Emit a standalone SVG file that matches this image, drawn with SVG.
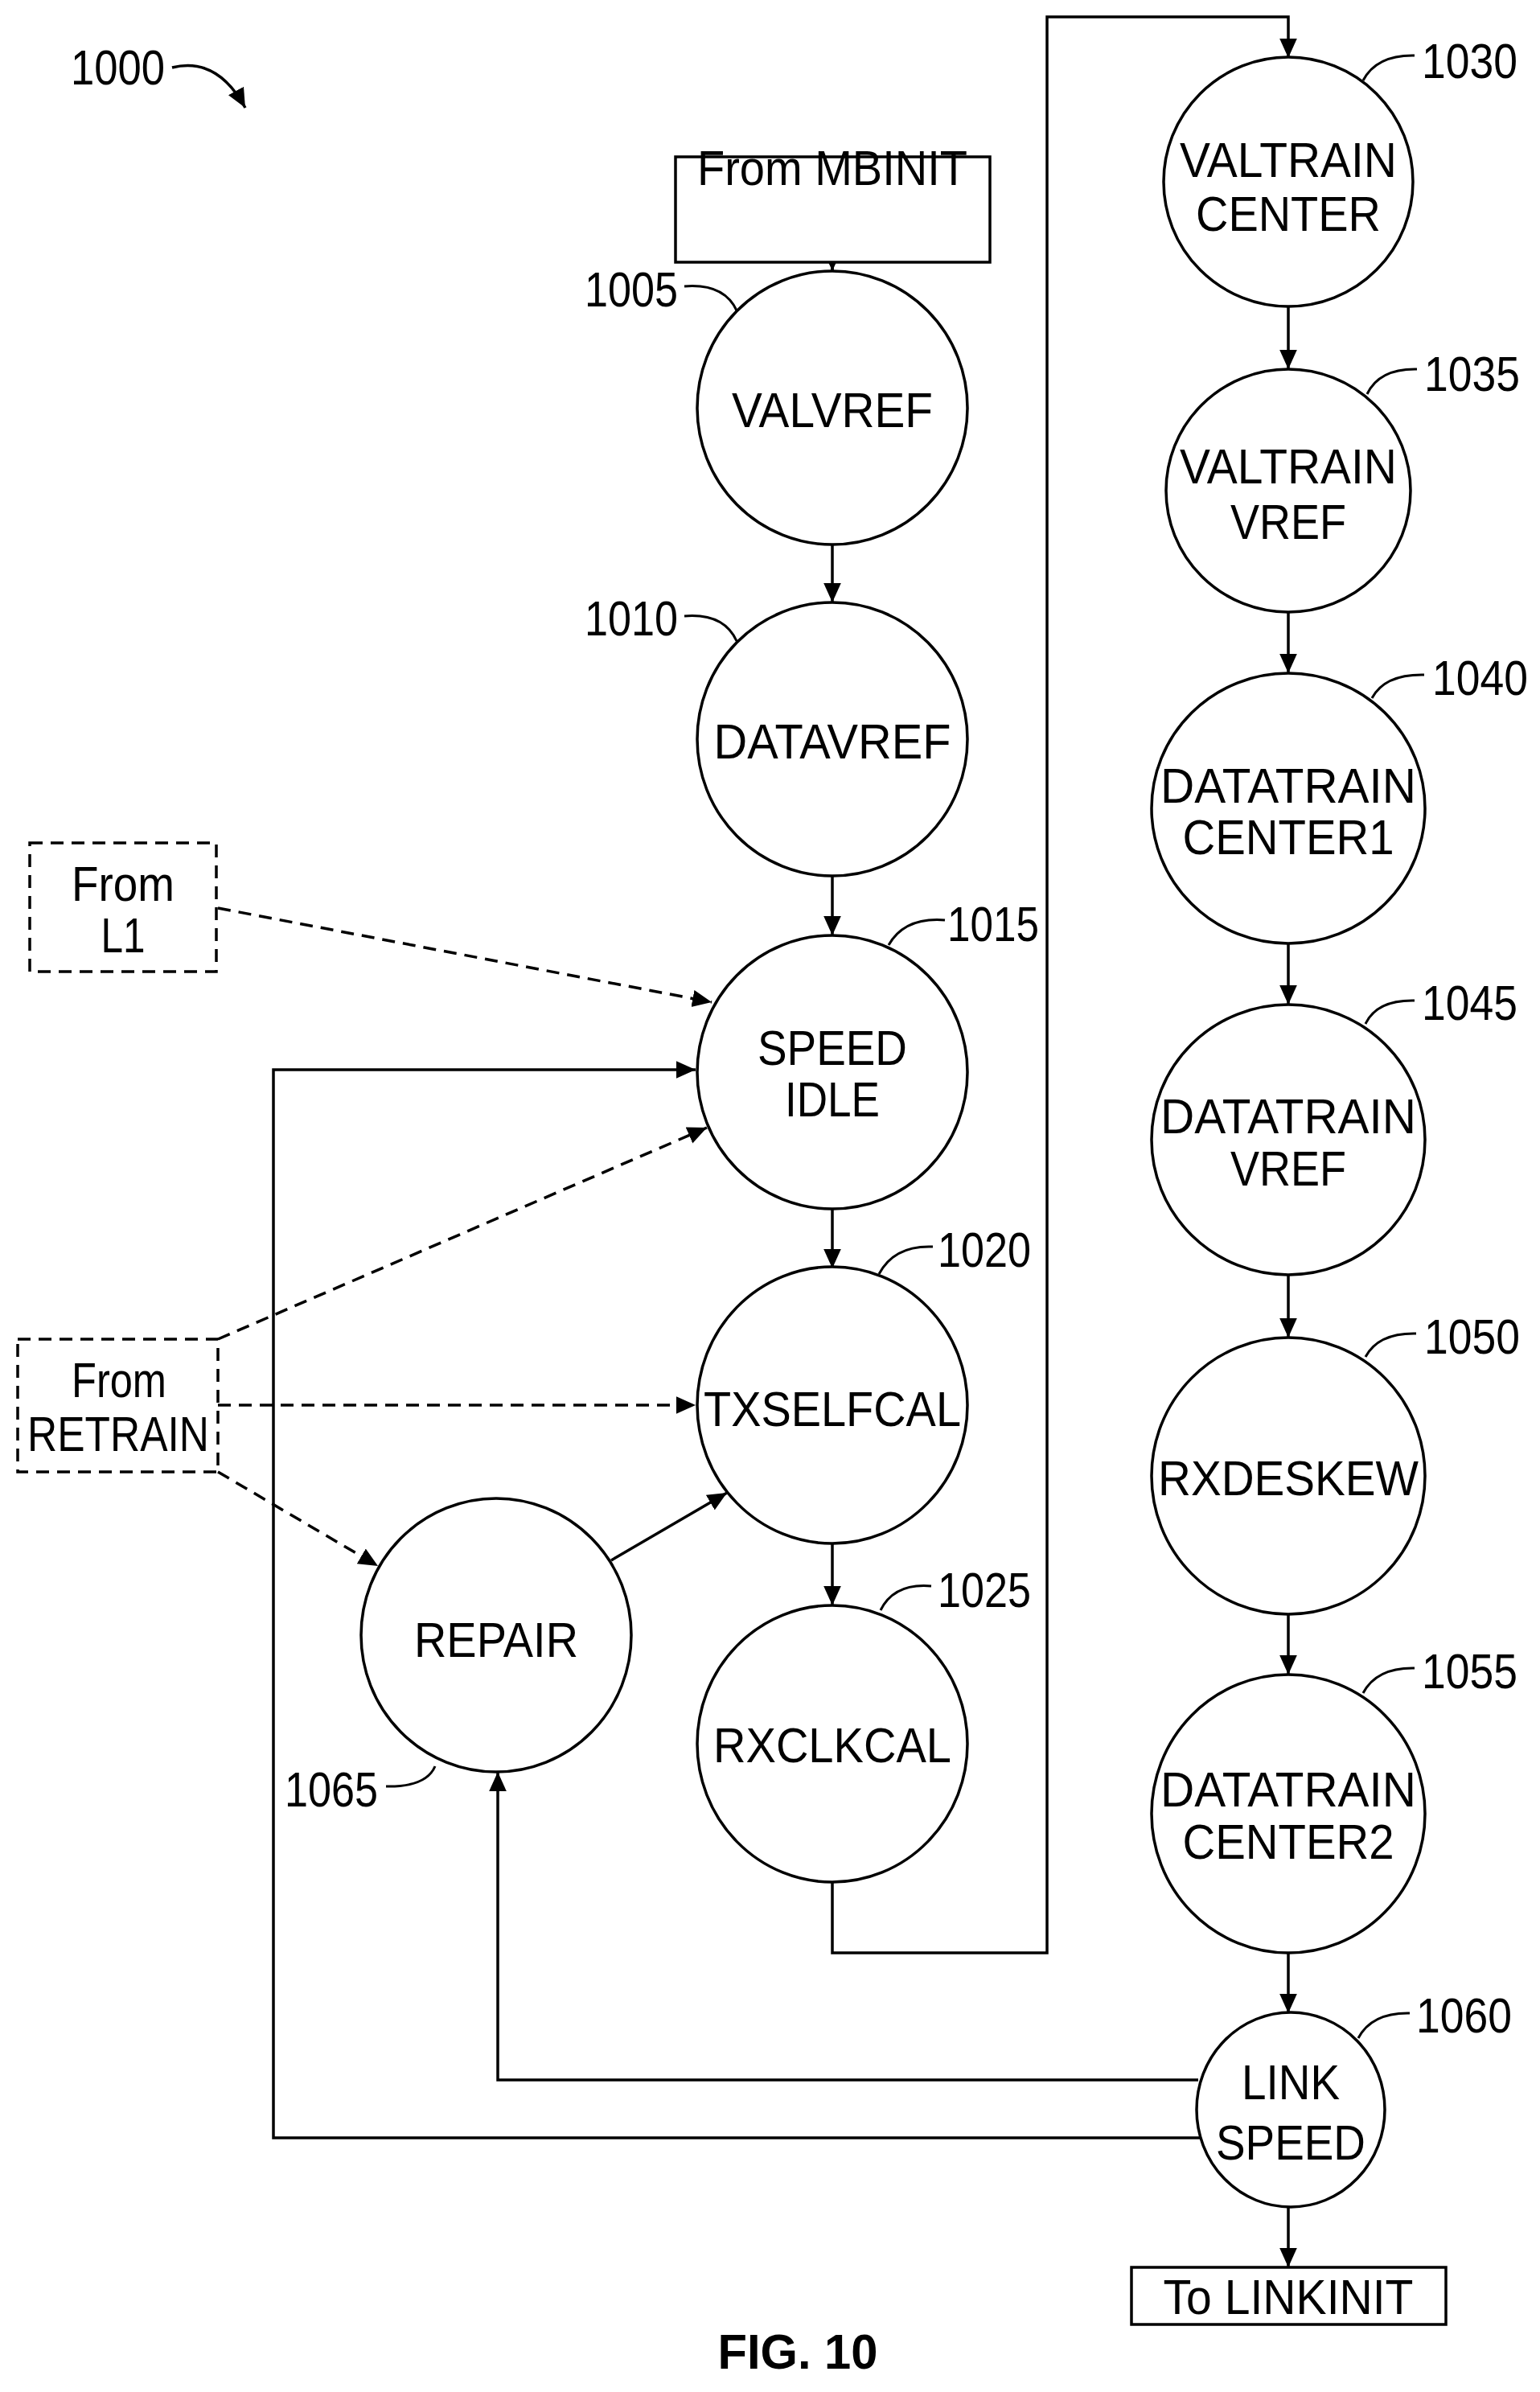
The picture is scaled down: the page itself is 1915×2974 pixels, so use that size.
<svg xmlns="http://www.w3.org/2000/svg" width="1915" height="2974" viewBox="0 0 1915 2974">
<style>
text{font-family:"Liberation Sans",Arial,sans-serif;font-size:62px;fill:#000}
.n{text-anchor:middle}
ellipse,rect{fill:#fff;stroke:#000;stroke-width:3.5}
.c path,.c line,.c polyline{fill:none;stroke:#000;stroke-width:3.5}
.d{stroke-dasharray:16 10}
.l{fill:none;stroke:#000;stroke-width:3}
</style>
<defs>
<marker id="a" viewBox="0 0 10 10" refX="10" refY="5" markerWidth="7" markerHeight="7" markerUnits="userSpaceOnUse" orient="auto">
<path d="M0,0 L10,5 L0,10 z" fill="#000"/>
</marker>
<marker id="b" viewBox="0 0 10 10" refX="10" refY="5" markerWidth="24" markerHeight="24" markerUnits="userSpaceOnUse" orient="auto">
<path d="M0,0.5 L10,5 L0,9.5 z" fill="#000"/>
</marker>
</defs>
<g class="c" id="connectors">
<line x1="1035" y1="326" x2="1035" y2="337" marker-end="url(#b)"/>
<line x1="1035" y1="326" x2="1035" y2="336"/>
<line x1="1035" y1="677" x2="1035" y2="749" marker-end="url(#b)"/>
<line x1="1035" y1="1089" x2="1035" y2="1163" marker-end="url(#b)"/>
<line x1="1035" y1="1503" x2="1035" y2="1577" marker-end="url(#b)"/>
<line x1="1035" y1="1919" x2="1035" y2="1996" marker-end="url(#b)"/>
<polyline points="1035,2340 1035,2428 1302,2428 1302,21 1602,21 1602,72" marker-end="url(#b)"/>
<line x1="1602" y1="381" x2="1602" y2="459" marker-end="url(#b)"/>
<line x1="1602" y1="761" x2="1602" y2="837" marker-end="url(#b)"/>
<line x1="1602" y1="1172" x2="1602" y2="1249" marker-end="url(#b)"/>
<line x1="1602" y1="1586" x2="1602" y2="1663" marker-end="url(#b)"/>
<line x1="1602" y1="2007" x2="1602" y2="2082" marker-end="url(#b)"/>
<line x1="1602" y1="2428" x2="1602" y2="2503" marker-end="url(#b)"/>
<line x1="1602" y1="2744" x2="1602" y2="2819" marker-end="url(#b)"/>
<polyline points="1492,2658 340,2658 340,1330 865,1330" marker-end="url(#b)"/>
<polyline points="1490,2586 619,2586 619,2203" marker-end="url(#b)"/>
<line x1="760" y1="1940" x2="904" y2="1856" marker-end="url(#b)"/>
<line class="d" x1="271" y1="1129" x2="885" y2="1246" marker-end="url(#b)"/>
<line class="d" x1="271" y1="1665" x2="879" y2="1402" marker-end="url(#b)"/>
<line class="d" x1="271" y1="1747" x2="865" y2="1747" marker-end="url(#b)"/>
<line class="d" x1="271" y1="1830" x2="470" y2="1947" marker-end="url(#b)"/>
<path d="M214,84 Q270,70 305,134" marker-end="url(#b)"/>
</g>
<text x="88" y="105" textLength="117" lengthAdjust="spacingAndGlyphs">1000</text>
<g id="mbinit"><rect x="840" y="195" width="391" height="131"/><text class="n" x="1035" y="230" textLength="336" lengthAdjust="spacingAndGlyphs">From MBINIT</text></g>
<g id="n1005"><ellipse cx="1035" cy="507" rx="168" ry="170"/><text class="n" x="1035" y="531" textLength="250" lengthAdjust="spacingAndGlyphs">VALVREF</text>
<text x="727" y="381" textLength="116" lengthAdjust="spacingAndGlyphs">1005</text><path class="l" d="M851,356 Q900,352 916,386"/></g>
<g id="n1010"><ellipse cx="1035" cy="919" rx="168" ry="170"/><text class="n" x="1035" y="943" textLength="295" lengthAdjust="spacingAndGlyphs">DATAVREF</text>
<text x="727" y="790" textLength="116" lengthAdjust="spacingAndGlyphs">1010</text><path class="l" d="M851,766 Q900,762 916,797"/></g>
<g id="n1015"><ellipse cx="1035" cy="1333" rx="168" ry="170"/><text class="n" x="1035" y="1324" textLength="186" lengthAdjust="spacingAndGlyphs">SPEED</text><text class="n" x="1035" y="1388" textLength="118" lengthAdjust="spacingAndGlyphs">IDLE</text>
<text x="1178" y="1170" textLength="114" lengthAdjust="spacingAndGlyphs">1015</text><path class="l" d="M1175,1144 Q1125,1140 1105,1175"/></g>
<g id="n1020"><ellipse cx="1035" cy="1747" rx="168" ry="172"/><text class="n" x="1035" y="1773" textLength="320" lengthAdjust="spacingAndGlyphs">TXSELFCAL</text>
<text x="1166" y="1575" textLength="116" lengthAdjust="spacingAndGlyphs">1020</text><path class="l" d="M1160,1550 Q1112,1548 1093,1584"/></g>
<g id="n1025"><ellipse cx="1035" cy="2168" rx="168" ry="172"/><text class="n" x="1035" y="2191" textLength="296" lengthAdjust="spacingAndGlyphs">RXCLKCAL</text>
<text x="1166" y="1998" textLength="116" lengthAdjust="spacingAndGlyphs">1025</text><path class="l" d="M1158,1972 Q1112,1968 1095,2002"/></g>
<g id="n1065"><ellipse cx="617" cy="2033" rx="168" ry="170"/><text class="n" x="617" y="2060" textLength="204" lengthAdjust="spacingAndGlyphs">REPAIR</text>
<text x="354" y="2246" textLength="116" lengthAdjust="spacingAndGlyphs">1065</text><path class="l" d="M480,2221 Q530,2222 541,2196"/></g>
<g id="n1030"><ellipse cx="1602" cy="226" rx="155" ry="155"/><text class="n" x="1602" y="220" textLength="270" lengthAdjust="spacingAndGlyphs">VALTRAIN</text><text class="n" x="1602" y="287" textLength="230" lengthAdjust="spacingAndGlyphs">CENTER</text>
<text x="1768" y="97" textLength="119" lengthAdjust="spacingAndGlyphs">1030</text><path class="l" d="M1759,69 Q1712,68 1695,100"/></g>
<g id="n1035"><ellipse cx="1602" cy="610" rx="152" ry="151"/><text class="n" x="1602" y="601" textLength="270" lengthAdjust="spacingAndGlyphs">VALTRAIN</text><text class="n" x="1602" y="670" textLength="144" lengthAdjust="spacingAndGlyphs">VREF</text>
<text x="1771" y="486" textLength="119" lengthAdjust="spacingAndGlyphs">1035</text><path class="l" d="M1762,459 Q1715,458 1700,490"/></g>
<g id="n1040"><ellipse cx="1602" cy="1005" rx="170" ry="168"/><text class="n" x="1602" y="998" textLength="318" lengthAdjust="spacingAndGlyphs">DATATRAIN</text><text class="n" x="1602" y="1062" textLength="263" lengthAdjust="spacingAndGlyphs">CENTER1</text>
<text x="1781" y="864" textLength="119" lengthAdjust="spacingAndGlyphs">1040</text><path class="l" d="M1771,839 Q1722,838 1706,868"/></g>
<g id="n1045"><ellipse cx="1602" cy="1417" rx="170" ry="168"/><text class="n" x="1602" y="1409" textLength="318" lengthAdjust="spacingAndGlyphs">DATATRAIN</text><text class="n" x="1602" y="1474" textLength="144" lengthAdjust="spacingAndGlyphs">VREF</text>
<text x="1768" y="1268" textLength="119" lengthAdjust="spacingAndGlyphs">1045</text><path class="l" d="M1759,1244 Q1712,1243 1698,1273"/></g>
<g id="n1050"><ellipse cx="1602" cy="1835" rx="170" ry="172"/><text class="n" x="1602" y="1859" textLength="324" lengthAdjust="spacingAndGlyphs">RXDESKEW</text>
<text x="1771" y="1683" textLength="119" lengthAdjust="spacingAndGlyphs">1050</text><path class="l" d="M1761,1658 Q1714,1657 1698,1687"/></g>
<g id="n1055"><ellipse cx="1602" cy="2255" rx="170" ry="173"/><text class="n" x="1602" y="2246" textLength="318" lengthAdjust="spacingAndGlyphs">DATATRAIN</text><text class="n" x="1602" y="2311" textLength="263" lengthAdjust="spacingAndGlyphs">CENTER2</text>
<text x="1768" y="2099" textLength="119" lengthAdjust="spacingAndGlyphs">1055</text><path class="l" d="M1759,2074 Q1712,2073 1695,2105"/></g>
<g id="n1060"><ellipse cx="1605" cy="2623" rx="117" ry="121"/><text class="n" x="1605" y="2610" textLength="122" lengthAdjust="spacingAndGlyphs">LINK</text><text class="n" x="1605" y="2685" textLength="186" lengthAdjust="spacingAndGlyphs">SPEED</text>
<text x="1761" y="2527" textLength="119" lengthAdjust="spacingAndGlyphs">1060</text><path class="l" d="M1753,2503 Q1706,2502 1689,2534"/></g>
<g id="linkinit"><rect x="1407" y="2819" width="391" height="71"/><text class="n" x="1602" y="2877" textLength="311" lengthAdjust="spacingAndGlyphs">To LINKINIT</text></g>
<g id="l1"><rect class="d" x="37" y="1048" width="232" height="160"/><text class="n" x="153" y="1120" textLength="128" lengthAdjust="spacingAndGlyphs">From</text><text class="n" x="153" y="1184" textLength="55" lengthAdjust="spacingAndGlyphs">L1</text></g>
<g id="retrain"><rect class="d" x="22" y="1665" width="249" height="165"/><text class="n" x="148" y="1737" textLength="118" lengthAdjust="spacingAndGlyphs">From</text><text class="n" x="147" y="1804" textLength="226" lengthAdjust="spacingAndGlyphs">RETRAIN</text></g>
<text class="n" x="992" y="2945" font-weight="bold" textLength="199" lengthAdjust="spacingAndGlyphs">FIG. 10</text>
</svg>
